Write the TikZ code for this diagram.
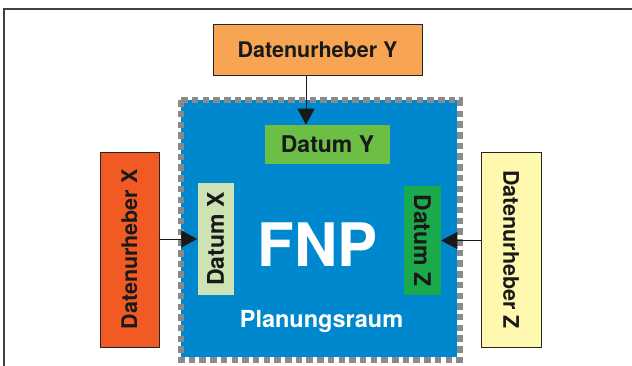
\documentclass[tikz,border=0pt]{standalone}
\usepackage{fontspec}
\setmainfont{TeX Gyre Heros}
\usepackage{tikz}
\usepackage{xcolor}
\usetikzlibrary{arrows.meta}

\definecolor{orangeY}{HTML}{F7A553}
\definecolor{rotX}{HTML}{F15A22}
\definecolor{gelbZ}{HTML}{FFF9B0}
\definecolor{fnpblau}{HTML}{0088CF}
\definecolor{gruenY}{HTML}{6DBE45}
\definecolor{hellgruenX}{HTML}{CDE3B3}
\definecolor{gruenZ}{HTML}{1BAA4B}
\definecolor{randgrau}{HTML}{8A8A8A}

\tikzset{
  urheber/.style={draw=black!85,line width=0.9pt,inner sep=0pt,font=\fontsize{21.5}{24}\bfseries\selectfont,text=black!90},
  datum/.style={inner sep=0pt,font=\fontsize{23}{26}\bfseries\selectfont,text=black!90},
  pfeil/.style={-{Triangle[length=16pt,width=17pt]},line width=0.9pt,black!90}
}

\begin{document}
\begin{tikzpicture}[y=-1pt,x=1pt,line width=0.5pt,line cap=butt,line join=miter]
\useasboundingbox (0,0) rectangle (632,366);

% Rahmen
\draw[line width=1.3pt,black!75] (4,366) -- (4,9) -- (632,9);

% Planungsraum
\node[fill=fnpblau,minimum width=276pt,minimum height=256.5pt,inner sep=0pt] (fnp) at (319,228.75) {};
\draw[line width=6pt,randgrau,dash pattern=on 6.5pt off 4.2pt] (fnp.north west) rectangle ([xshift=2.5pt,yshift=-2.5pt]fnp.south east);
\node[text=white,font=\fontsize{60}{62}\bfseries\selectfont] (fnptext) at (317.5,244.5) {FNP};
\node[text=white,font=\fontsize{23.5}{26}\bfseries\selectfont,anchor=base] (raum) at (321.5,327) {Planungsraum};

% Daten
\node[datum,fill=gruenY,minimum width=125pt,minimum height=39pt] (datY) at (327.5,144.5) {Datum Y};
\node[datum,fill=hellgruenX,rotate=90,minimum width=112pt,minimum height=36pt] (datX) at (215.5,239) {Datum X};
\node[datum,fill=gruenZ,rotate=-90,minimum width=109pt,minimum height=37pt] (datZ) at (422.5,240.5) {Datum Z};

% Datenurheber
\node[urheber,fill=orangeY,minimum width=209pt,minimum height=51pt] (dy) at (317.5,49.5) {Datenurheber Y};
\node[urheber,fill=rotX,rotate=90,minimum width=195pt,minimum height=59pt] (dx) at (129.5,249.5) {Datenurheber X};
\node[urheber,fill=gelbZ,rotate=-90,minimum width=195pt,minimum height=60pt] (dz) at (511,249.5) {Datenurheber Z};

% Pfeile
\draw[pfeil] ([xshift=-11.5pt]dy.south) -- ([xshift=-11.5pt]dy.south |- datY.north);
\draw[pfeil] (dx.south |- datX.north) -- (datX.north);
\draw[pfeil] (dz.south |- datZ.north) -- (datZ.north);

\end{tikzpicture}
\end{document}
